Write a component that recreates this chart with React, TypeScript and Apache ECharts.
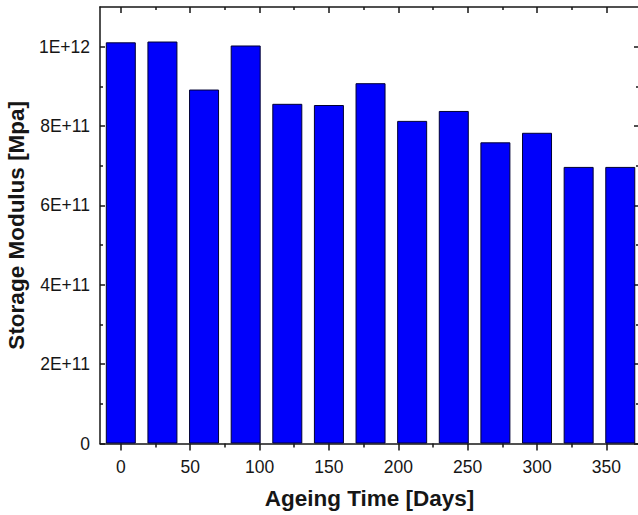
import React, { useEffect, useRef } from "react";
import * as echarts from "echarts";

const ageingDays = [0, 30, 60, 90, 120, 150, 180, 210, 240, 270, 300, 330, 360];
const storageModulus = [
  1.011e12, 1.013e12, 0.892e12, 1.003e12, 0.856e12, 0.853e12, 0.908e12,
  0.813e12, 0.838e12, 0.759e12, 0.783e12, 0.697e12, 0.697e12,
];
const xMajorTicks = [0, 50, 100, 150, 200, 250, 300, 350];
const xMinorTicks = [25, 75, 125, 175, 225, 275, 325];
const yMajorTicks = [0, 2e11, 4e11, 6e11, 8e11, 1e12];
const yMinorTicks = [1e11, 3e11, 5e11, 7e11, 9e11];

const X_MIN = -15;
const X_MAX = 373.5;
const Y_MIN = 0;
const Y_MAX = 1.1e12;

const FONT = "'Liberation Sans', Arial, sans-serif";
const INK = "#161616";
const LABEL_SIZE = 17.5;
const TITLE_SIZE = 22.5;

function sciLabel(v: number): string {
  if (v === 0) return "0";
  const e = Math.floor(Math.log10(v) + 1e-9);
  const m = Math.round((v / Math.pow(10, e)) * 100) / 100;
  return `${m}E+${e}`;
}

function xAxisDef(position: "top" | "bottom", ticks: number[], len: number, inside: boolean, line: boolean, labels: boolean, name?: string) {
  return {
    type: "value",
    gridIndex: 0,
    position,
    min: X_MIN,
    max: X_MAX,
    name: name ?? "",
    nameLocation: "middle",
    nameGap: 43,
    nameTextStyle: { fontFamily: FONT, fontWeight: "bold", fontSize: TITLE_SIZE, color: INK },
    axisLine: { show: line, onZero: false, lineStyle: { color: INK, width: 1.5 } },
    axisTick: { show: true, inside, length: len, customValues: ticks, lineStyle: { color: INK, width: 1.5 } },
    axisLabel: labels
      ? { show: true, customValues: xMajorTicks, fontFamily: FONT, fontSize: LABEL_SIZE, color: INK, margin: 14 }
      : { show: false },
    splitLine: { show: false },
  };
}

function yAxisDef(position: "left" | "right", ticks: number[], len: number, line: boolean, labels: boolean, name?: string) {
  return {
    type: "value",
    gridIndex: 0,
    position,
    min: Y_MIN,
    max: Y_MAX,
    name: name ?? "",
    nameLocation: "middle",
    nameGap: 69,
    nameTextStyle: { fontFamily: FONT, fontWeight: "bold", fontSize: TITLE_SIZE, color: INK },
    axisLine: { show: line, onZero: false, lineStyle: { color: INK, width: 1.5 } },
    axisTick: { show: true, inside: true, length: len, customValues: ticks, lineStyle: { color: INK, width: 1.5 } },
    axisLabel: labels
      ? { show: true, customValues: yMajorTicks, formatter: (v: number) => sciLabel(v), fontFamily: FONT, fontSize: LABEL_SIZE, color: INK, margin: 10 }
      : { show: false },
    splitLine: { show: false },
  };
}

export default function App() {
  const ref = useRef<HTMLDivElement>(null);

  useEffect(() => {
    if (!ref.current) return;
    const chart = echarts.init(ref.current, undefined, { renderer: "svg" });
    const option: any = {
      animation: false,
      backgroundColor: "#ffffff",
      grid: { left: 100, top: 7, width: 539, height: 436.5, outerBoundsMode: "none", containLabel: false },
      xAxis: [
        xAxisDef("bottom", xMajorTicks, 7, false, true, true, "Ageing Time [Days]"),
        xAxisDef("bottom", xMinorTicks, 4, false, false, false),
        xAxisDef("top", xMajorTicks, 6, true, true, false),
        xAxisDef("top", xMinorTicks, 3, true, false, false),
      ],
      yAxis: [
        yAxisDef("left", yMajorTicks, 5, true, true, "Storage Modulus [Mpa]"),
        yAxisDef("left", yMinorTicks, 3, false, false),
        yAxisDef("right", yMajorTicks, 5, true, false),
        yAxisDef("right", yMinorTicks, 3, false, false),
      ],
      series: [
        {
          type: "bar",
          xAxisIndex: 0,
          yAxisIndex: 0,
          barWidth: 30,
          data: ageingDays.map((d, i) => [d, storageModulus[i]]),
          itemStyle: { color: "#0000fb", borderColor: "#000033", borderWidth: 1 },
        },
      ],
    };
    chart.setOption(option);
    return () => chart.dispose();
  }, []);

  return (
    <div
      ref={ref}
      style={{ position: "absolute", left: 0, top: 0, width: 638, height: 515, background: "#fff" }}
    />
  );
}
